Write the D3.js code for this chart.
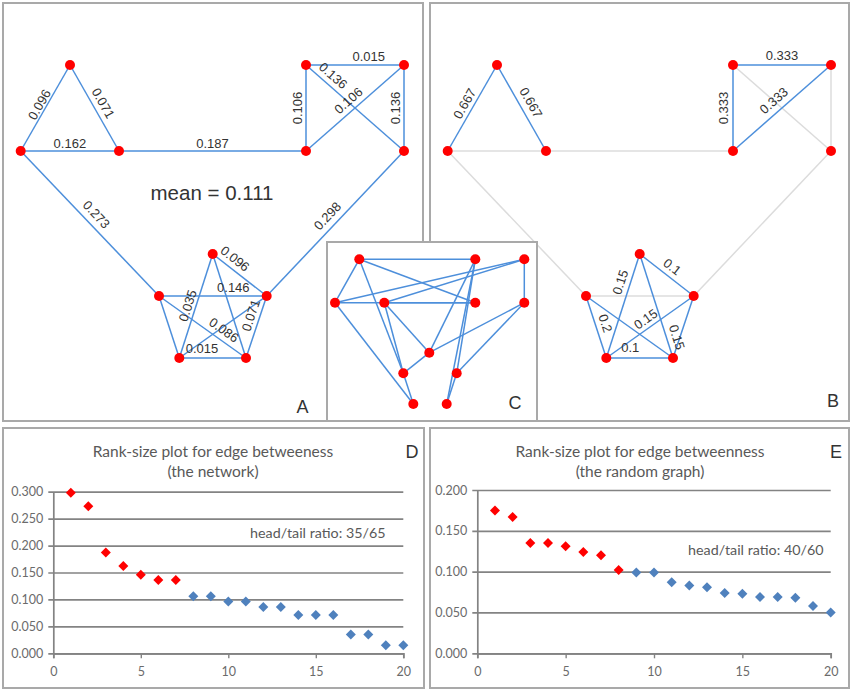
<!DOCTYPE html>
<html>
<head>
<meta charset="utf-8">
<script src="https://cdn.jsdelivr.net/npm/d3@7"></script>
<style>
  body { margin: 0; background: #fff; }
  svg { display: block; font-family: "Liberation Sans", Arial, sans-serif; }
</style>
</head>
<body>
<svg id="fig" width="852" height="690"></svg>
<script>
// ---- network (panels A and B share the same layout) ----
const nodeLayout = [
    [17.7, 148], [67, 62], [116, 148],                     // triangle
    [303, 62], [401, 62], [303, 148], [401, 148],           // square
    [209.7, 251], [156, 293], [263.7, 293], [176.3, 355], [243, 355] // pentagon
];
const edgeList = [
    [0, 1], [1, 2], [0, 2], [2, 5], [3, 4], [3, 5], [4, 6], [3, 6], [5, 4],
    [0, 8], [6, 9], [7, 9], [8, 9], [7, 10], [7, 11], [8, 10], [8, 11],
    [9, 10], [9, 11], [10, 11]
];
// edge betweenness of the whole network
const betweenA = [0.096, 0.071, 0.162, 0.187, 0.015, 0.106, 0.136, 0.136, 0.106,
    0.273, 0.298, 0.096, 0.146, 0.035, 0.035, 0.071, 0.086, 0.086, 0.071, 0.015];
// edge betweenness inside the communities (null = cut edge)
const betweenB = [0.667, 0.667, null, null, 0.333, 0.333, null, null, 0.333,
    null, null, 0.1, null, 0.15, 0.15, 0.2, 0.15, 0.15, 0.2, 0.1];

// which edges carry a label, where along the edge (t) and how far off it (d)
const labelPlaceA = [
    [0, .5, 7], [1, .5, 10], [2, .5, 8], [3, .5, 8], [4, .64, 9], [5, .5, 9],
    [6, .5, 9], [7, .21, 10], [8, .5, 10], [9, .49, 11], [10, .5, 11],
    [11, .3, 10], [12, .69, 9], [13, .52, 8], [16, .68, 10], [18, .36, 9], [19, .34, 10]
];
const labelPlaceB = [
    [0, .5, 9], [1, .5, 11], [4, .5, 10], [5, .5, 10], [8, .49, 11],
    [11, .49, 10], [13, .3, 10], [14, .83, 10], [15, .49, 10], [17, .49, 9], [19, .36, 11]
];

// ---- random graph (panel C) ----
const randomLayout = [
    [32.3, 17.3], [148.3, 17.3], [197.3, 17.3],
    [8, 60.7], [57.3, 60.7], [148.3, 60.7], [197.3, 60.7],
    [102.3, 110.7], [76.3, 131.3], [129.7, 131.3], [86.3, 162], [119.7, 162]
];
const randomEdges = [
    [0, 1], [0, 3], [0, 5], [0, 8], [3, 2], [3, 5], [3, 10], [4, 5], [4, 2], [4, 8],
    [4, 7], [1, 7], [1, 9], [1, 11], [2, 6], [6, 7], [6, 9], [9, 11], [8, 10], [8, 7]
];

// ---- rank-size plots ----
const ranks = d3.range(1, 21);
const rankNetwork = [0.298, 0.273, 0.187, 0.162, 0.146, 0.136, 0.136, 0.106, 0.106, 0.096,
    0.096, 0.086, 0.086, 0.071, 0.071, 0.071, 0.035, 0.035, 0.015, 0.015];
const rankRandom = [0.175, 0.167, 0.135, 0.135, 0.131, 0.124, 0.120, 0.102, 0.099, 0.099,
    0.087, 0.083, 0.081, 0.074, 0.073, 0.069, 0.069, 0.068, 0.058, 0.050];
const xTicks = [0, 5, 10, 15, 20];
const yTicksNetwork = [0, 0.05, 0.1, 0.15, 0.2, 0.25, 0.3];
const yTicksRandom = [0, 0.05, 0.1, 0.15, 0.2];

const RED = "#ff0000", BLUE = "#4d8fdb", GREY = "#dcdcdc", FRAME = "#a9a9a9";
const svg = d3.select("#fig");
svg.append("rect").attr("width", 852).attr("height", 690).attr("fill", "#fff");

function frame(x, y, w, h) {
    svg.append("rect").attr("x", x).attr("y", y).attr("width", w).attr("height", h)
        .attr("fill", "#fff").attr("stroke", FRAME).attr("stroke-width", 2);
}

function panelLetter(t, x, y) {
    svg.append("text").attr("x", x).attr("y", y).attr("text-anchor", "middle")
        .attr("dy", "0.35em").attr("font-size", 18).attr("fill", "#333").text(t);
}

function drawGraph(x, y, nodes, edges, colorOf) {
    const g = svg.append("g");
    g.selectAll("line").data(edges).join("line")
        .attr("x1", d => x(nodes[d[0]][0])).attr("y1", d => y(nodes[d[0]][1]))
        .attr("x2", d => x(nodes[d[1]][0])).attr("y2", d => y(nodes[d[1]][1]))
        .attr("stroke", (d, i) => colorOf(i)).attr("stroke-width", 1.5);
    return g;
}

function drawNodes(g, x, y, nodes) {
    g.selectAll("circle").data(nodes).join("circle")
        .attr("cx", d => x(d[0])).attr("cy", d => y(d[1])).attr("r", 5)
        .attr("fill", RED);
}

function edgeLabels(g, x, y, places, textOf) {
    places.forEach(([i, t, d]) => {
        const a = nodeLayout[edgeList[i][0]], b = nodeLayout[edgeList[i][1]];
        const x1 = x(a[0]), y1 = y(a[1]), x2 = x(b[0]), y2 = y(b[1]);
        let ang = Math.atan2(y2 - y1, x2 - x1) * 180 / Math.PI;
        if (ang >= 90) ang -= 180;
        if (ang < -90) ang += 180;
        const r = ang * Math.PI / 180;
        const px = x1 + (x2 - x1) * t + d * Math.sin(r);
        const py = y1 + (y2 - y1) * t - d * Math.cos(r);
        g.append("text")
            .attr("transform", `translate(${px},${py}) rotate(${ang})`)
            .attr("text-anchor", "middle").attr("dy", "0.35em")
            .attr("font-size", 13).attr("fill", "#333")
            .text(textOf(i));
    });
}

// ---- panel A ----
frame(3, 3, 420, 418);
const xA = d3.scaleLinear().domain([0, 420]).range([3, 423]);
const yA = d3.scaleLinear().domain([0, 418]).range([3, 421]);
const gA = drawGraph(xA, yA, nodeLayout, edgeList, () => BLUE);
edgeLabels(gA, xA, yA, labelPlaceA, i => d3.format(".3f")(betweenA[i]));
drawNodes(gA, xA, yA, nodeLayout);
const meanA = d3.mean(betweenA);
svg.append("text").attr("x", 212).attr("y", 193).attr("text-anchor", "middle")
    .attr("dy", "0.35em").attr("font-size", 20.5).attr("fill", "#333")
    .text("mean = " + d3.format(".3f")(meanA));
panelLetter("A", 302.5, 406.5);

// ---- panel B ----
frame(430, 3, 419, 418);
const xB = d3.scaleLinear().domain([0, 420]).range([430, 850]);
const yB = yA;
const gB = drawGraph(xB, yB, nodeLayout, edgeList, i => betweenB[i] == null ? GREY : BLUE);
gB.selectAll("line").filter((d, i) => betweenB[i] == null).lower();
edgeLabels(gB, xB, yB, labelPlaceB, i => String(betweenB[i]));
drawNodes(gB, xB, yB, nodeLayout);
panelLetter("B", 833, 401);

// ---- panel C ----
frame(327, 242, 210, 179);
const xC = d3.scaleLinear().domain([0, 210]).range([327, 537]);
const yC = d3.scaleLinear().domain([0, 179]).range([242, 421]);
const gC = drawGraph(xC, yC, randomLayout, randomEdges, () => BLUE);
drawNodes(gC, xC, yC, randomLayout);
panelLetter("C", 515, 403);

// ---- panels D and E ----
function rankPlot(opt) {
    frame(opt.box[0], opt.box[1], opt.box[2], opt.box[3]);
    const g = svg.append("g").attr("font-family", "Lato, 'Open Sans', sans-serif");
    const x = d3.scaleLinear().domain([0, 20]).range(opt.xr);
    const y = d3.scaleLinear().domain([0, d3.max(opt.yTicks)]).range(opt.yr);
    const x0 = opt.xr[0], x1 = opt.xr[1];

    // horizontal grid with small outside ticks
    const grid = g.append("g").attr("transform", `translate(${x0 - 5},0)`)
        .call(d3.axisRight(y).tickValues(opt.yTicks).tickSize(x1 - x0 + 5).tickFormat(""));
    grid.select(".domain").remove();
    grid.selectAll("line").attr("stroke", "#838383").attr("stroke-width", 1.7);

    const yAxis = g.append("g").attr("transform", `translate(${x0},0)`)
        .call(d3.axisLeft(y).tickValues(opt.yTicks).tickSize(0).tickPadding(10)
            .tickFormat(d3.format(".3f")));
    yAxis.select(".domain").attr("stroke", "#838383").attr("stroke-width", 1.7);
    yAxis.selectAll("text").attr("font-size", 12.5).attr("fill", "#6b6b6b")
        .attr("font-family", "Lato, sans-serif");

    const xAxis = g.append("g").attr("transform", `translate(0,${opt.yr[0]})`)
        .call(d3.axisBottom(x).tickValues(xTicks).tickSize(5).tickPadding(9));
    xAxis.select(".domain").attr("stroke", "#838383").attr("stroke-width", 1.7);
    xAxis.selectAll("line").attr("stroke", "#838383").attr("stroke-width", 1.4);
    xAxis.selectAll("text").attr("font-size", 12.5).attr("fill", "#6b6b6b")
        .attr("font-family", "Lato, sans-serif");

    const mean = d3.mean(opt.values);
    const head = opt.values.filter(v => v > mean).length;
    g.selectAll("path.pt").data(opt.values).join("path").attr("class", "pt")
        .attr("d", d3.symbol(d3.symbolSquare, 50))
        .attr("transform", (d, i) => `translate(${x(ranks[i])},${y(d)}) rotate(45)`)
        .attr("fill", d => d > mean ? RED : "#4f81bd");

    g.selectAll("text.title").data(opt.title).join("text").attr("class", "title")
        .attr("x", opt.titleX).attr("y", (d, i) => 452 + i * 20)
        .attr("text-anchor", "middle").attr("dy", "0.35em")
        .attr("font-size", 15.5).attr("fill", "#595959").text(d => d);

    const pct = Math.round(100 * head / opt.values.length);
    g.append("text").attr("x", opt.ratioPos[0]).attr("y", opt.ratioPos[1])
        .attr("dy", "0.35em").attr("font-size", 14.3).attr("fill", "#595959")
        .text(`head/tail ratio: ${pct}/${100 - pct}`);
}

rankPlot({
    box: [3, 428, 421, 260], xr: [53.3, 403.3], yr: [653.3, 491.7],
    yTicks: yTicksNetwork, values: rankNetwork,
    title: ["Rank-size plot for edge betweeness", "(the network)"],
    titleX: 213, ratioPos: [250, 533]
});
panelLetter("D", 412, 452);

rankPlot({
    box: [430, 428, 419, 260], xr: [477.3, 830.7], yr: [653.3, 490],
    yTicks: yTicksRandom, values: rankRandom,
    title: ["Rank-size plot for edge betweenness", "(the random graph)"],
    titleX: 640, ratioPos: [688, 550]
});
panelLetter("E", 836, 452);
</script>
</body>
</html>
